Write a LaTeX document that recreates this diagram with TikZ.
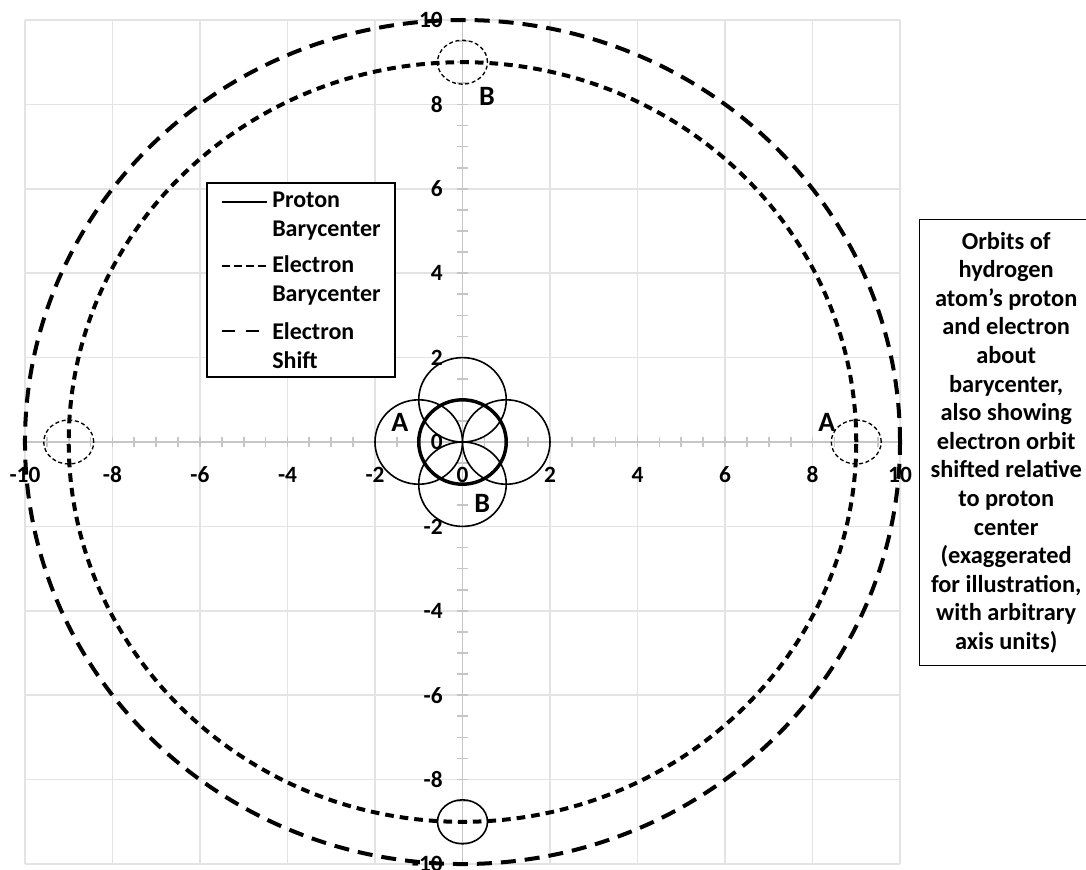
\documentclass[tikz,border=0pt]{standalone}
\usepackage{fontspec}
\setmainfont{Carlito}
\usetikzlibrary{positioning}

\begin{document}
\begin{tikzpicture}[x=32.8125pt,y=31.65pt,
  gridline/.style={gray!22,line width=1.1pt},
  axisline/.style={gray!45,line width=1.3pt},
  ticklabel/.style={font=\fontsize{17.5pt}{21pt}\selectfont\bfseries,inner sep=0pt},
  ptlabel/.style={font=\fontsize{21pt}{24pt}\selectfont\bfseries,inner sep=0pt},
  legtext/.style={font=\fontsize{18pt}{21.75pt}\selectfont\bfseries,inner sep=0pt,align=left,anchor=west},
  proton/.style={line width=2.6pt},
  ebary/.style={line width=3pt,dash pattern=on 6.5pt off 4.5pt},
  eshift/.style={line width=3pt,dash pattern=on 11.25pt off 6.75pt},
  thinorb/.style={line width=1.2pt},
  smallorb/.style={line width=1pt,dash pattern=on 3pt off 2pt}]
\useasboundingbox (-10.571,-10.118) rectangle (14.251,10.474);
\clip (-10.571,-10.118) rectangle (14.251,10.474);
% grid
\foreach \g in {-10,-8,...,10} {
  \draw[gridline] (\g,-10)--(\g,10);
  \draw[gridline] (-10,\g)--(10,\g);
}
% axes
\draw[axisline] (-10,0)--(10,0);
\draw[axisline] (0,-10)--(0,10);
\foreach \t in {-10,-9.5,...,10} {
  \draw[axisline] (\t,0) +(0,-4.1pt) -- +(0,4.1pt);
  \draw[axisline] (0,\t) +(-4.1pt,0) -- +(4.1pt,0);
}
\foreach \v in {-10,-8,...,10} {
  \node[ticklabel] (xl\v) at (\v,-0.78) {\v};
  \node[ticklabel,anchor=east] (yl\v) at (-0.446,\v) {\v};
}
% electron orbits
\draw[eshift] (0,0) circle[radius=10];
\draw[ebary] (0,0) circle[radius=9];
\draw[smallorb] (-9,0) ellipse[x radius=0.571,y radius=0.521];
\draw[smallorb] (9,0) ellipse[x radius=0.571,y radius=0.521];
\draw[smallorb] (0,9) ellipse[x radius=0.571,y radius=0.521];
\draw[thinorb] (0,-9) ellipse[x radius=0.571,y radius=0.521];
% proton orbits
\draw[thinorb] (-1,0) circle[radius=1];
\draw[thinorb] (1,0) circle[radius=1];
\draw[thinorb] (0,1) circle[radius=1];
\draw[thinorb] (0,-1) circle[radius=1];
\draw[proton] (0,0) circle[radius=1];
\node[ptlabel] (a1) at (-1.43,0.47) {A};
\node[ptlabel] (a2) at (8.33,0.47) {A};
\node[ptlabel] (b1) at (0.56,8.18) {B};
\node[ptlabel] (b2) at (0.45,-1.45) {B};
% legend
\draw[line width=1pt,fill=white] (-5.84,1.54) rectangle (-1.543,6.137);
\coordinate (s1) at (-5.497,5.687); \coordinate (e1) at (-4.469,5.687);
\coordinate (s2) at (-5.497,4.171); \coordinate (e2) at (-4.469,4.171);
\coordinate (s3) at (-5.497,2.630); \coordinate (e3) at (-4.469,2.630);
\draw[line width=2.2pt] (s1)--(e1);
\draw[line width=2.2pt,dash pattern=on 6pt off 3pt] (s2)--(e2);
\draw[line width=2.2pt,dash pattern=on 10pt off 8pt] (s3)--(e3);
\node[legtext] (lg1) at (-4.354,5.344) {Proton\\Barycenter};
\node[legtext] (lg2) at (-4.354,3.827) {Electron\\Barycenter};
\node[legtext] (lg3) at (-4.354,2.287) {Electron\\Shift};
% caption box
\node[draw,line width=0.8pt,fill=white,anchor=north west,inner sep=0pt,
  minimum width=130pt,minimum height=334.5pt,align=center,
  font=\fontsize{18.3pt}{21.45pt}\selectfont\bfseries] (title) at (10.434,5.284)
  {Orbits of\\hydrogen\\atom’s proton\\and electron\\about\\barycenter,\\also showing\\electron orbit\\shifted relative\\to proton\\center\\(exaggerated\\for illustration,\\with arbitrary\\axis units)};
\end{tikzpicture}
\end{document}
